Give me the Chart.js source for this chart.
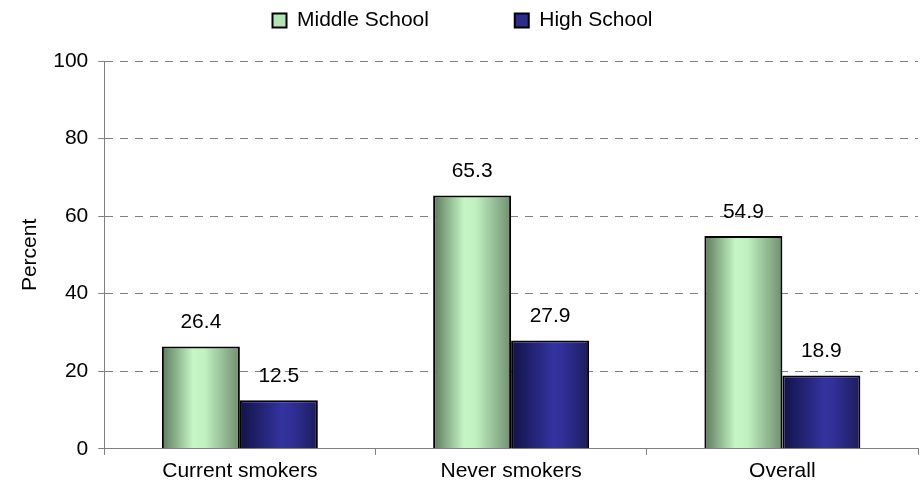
<!DOCTYPE html>
<html>
<head>
<meta charset="utf-8">
<script src="https://cdn.jsdelivr.net/npm/chart.js@4.4.1/dist/chart.umd.min.js"></script>
<style>
  body { margin: 0; background: #fff; }
  #wrap { width: 920px; height: 490px; }
</style>
</head>
<body>
<div id="wrap"><canvas id="myChart"></canvas></div>
<script>
var categories = ["Current smokers", "Never smokers", "Overall"];
var middleSchool = [26.4, 65.3, 54.9];
var highSchool = [12.5, 27.9, 18.9];
var yTicks = [0, 20, 40, 60, 80, 100];

var FONT = "'Liberation Sans', Arial, sans-serif";
var FS = 21;
var CAT_PCT = 0.575;

// horizontal "cylinder" shading, like the old Excel bars
var stops = [
  [[0, "#5b7a5b"], [0.4, "#c6f6c6"], [0.55, "#c0f0c0"], [1, "#6f8f6f"]],
  [[0, "#121248"], [0.55, "#3434a0"], [0.7, "#2e2e92"], [1, "#1c1c5c"]]
];
var flat = ["#b4e4b4", "#2c2c8c"];

function barFill(c) {
  var chart = c.chart;
  var xs = chart.scales && chart.scales.x;
  if (!xs || !chart.chartArea || c.dataIndex === undefined) return flat[c.datasetIndex];
  var catW = xs.width / categories.length;
  var bw = catW * CAT_PCT / 2;
  var left = xs.getPixelForValue(c.dataIndex) - bw + c.datasetIndex * bw;
  var g = chart.ctx.createLinearGradient(left, 0, left + bw, 0);
  stops[c.datasetIndex].forEach(function (s) { g.addColorStop(s[0], s[1]); });
  return g;
}

var valueLabels = {
  id: "valueLabels",
  afterDatasetsDraw: function (chart) {
    var ctx = chart.ctx;
    ctx.save();
    ctx.font = FS + "px " + FONT;
    ctx.fillStyle = "#000";
    ctx.textAlign = "center";
    ctx.textBaseline = "middle";
    chart.data.datasets.forEach(function (ds, i) {
      chart.getDatasetMeta(i).data.forEach(function (bar, j) {
        ctx.fillText(ds.data[j].toFixed(1), bar.x, bar.y - 24);
      });
    });
    ctx.restore();
  }
};

new Chart(document.getElementById("myChart"), {
  type: "bar",
  data: {
    labels: categories,
    datasets: [{
      label: "Middle School",
      data: middleSchool,
      backgroundColor: barFill,
      borderColor: "#000",
      borderWidth: 2
    }, {
      label: "High School",
      data: highSchool,
      backgroundColor: barFill,
      borderColor: "#000",
      borderWidth: 2
    }]
  },
  plugins: [valueLabels],
  options: {
    responsive: true,
    maintainAspectRatio: false,
    animation: false,
    layout: { padding: { left: 7, right: 2, top: 0, bottom: 2 } },
    datasets: { bar: { barPercentage: 1, categoryPercentage: CAT_PCT } },
    plugins: {
      tooltip: { enabled: false },
      // empty title used as a spacer between legend and plot
      title: { display: true, text: "", weight: 500, padding: 0, font: { size: 16, lineHeight: 1.25 } },
      legend: {
        position: "top",
        labels: {
          font: { family: FONT, size: FS },
          color: "#000",
          boxWidth: 14,
          boxHeight: 14,
          padding: 10,
          generateLabels: function (chart) {
            return chart.data.datasets.map(function (ds, i) {
              return {
                text: ds.label + (i ? "" : "             "),
                fillStyle: flat[i],
                strokeStyle: "#000",
                lineWidth: 2,
                datasetIndex: i
              };
            });
          }
        }
      }
    },
    scales: {
      x: {
        grid: { offset: true, drawOnChartArea: false, tickLength: 6, color: "#808080" },
        border: { color: "#808080", width: 1 },
        ticks: { font: { family: FONT, size: FS }, color: "#000", padding: 4 }
      },
      y: {
        min: 0,
        max: 100,
        afterBuildTicks: function (axis) {
          axis.ticks = yTicks.map(function (v) { return { value: v }; });
        },
        grid: {
          color: function (c) { return c.tick && c.tick.value === 0 ? "rgba(0,0,0,0)" : "#808080"; },
          tickColor: "#808080",
          tickBorderDash: [0],
          tickLength: 6
        },
        border: { color: "#808080", width: 1, dash: [8, 7] },
        ticks: { font: { family: FONT, size: FS }, color: "#000", padding: 10 },
        title: { display: true, text: "Percent", font: { family: FONT, size: FS }, color: "#000", padding: { top: 11, bottom: 0 } }
      }
    }
  }
});
</script>
</body>
</html>
